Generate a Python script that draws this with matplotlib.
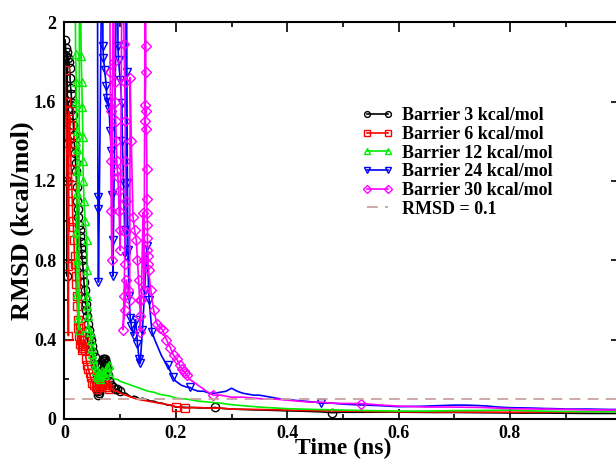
import matplotlib
matplotlib.use("Agg")
import matplotlib.pyplot as plt
from matplotlib.ticker import MultipleLocator

plt.rcParams['font.family'] = ['Liberation Serif', 'DejaVu Serif']
plt.rcParams['font.weight'] = 'bold'

# Barrier 3 kcal/mol
t3 = [0.001, 0.002, 0.003, 0.004, 0.0045, 0.005, 0.006, 0.008, 0.009, 0.010,
      0.011, 0.012, 0.013, 0.014, 0.015, 0.016, 0.017, 0.018, 0.019, 0.020,
      0.021, 0.022, 0.023, 0.024, 0.025, 0.026, 0.027, 0.028, 0.029, 0.030,
      0.031, 0.032, 0.033, 0.034, 0.035, 0.036, 0.037, 0.038, 0.039, 0.040,
      0.042, 0.044, 0.046, 0.048, 0.050, 0.052, 0.054, 0.056, 0.058, 0.059,
      0.060, 0.061, 0.062, 0.064, 0.066, 0.067, 0.068, 0.069, 0.070, 0.071,
      0.072, 0.073, 0.074, 0.075, 0.076, 0.078, 0.080, 0.083, 0.087, 0.091,
      0.095, 0.100, 0.105, 0.110, 0.115, 0.120, 0.125, 0.130, 0.135, 0.140,
      0.145, 0.150, 0.155, 0.160, 0.165, 0.170, 0.175, 0.180, 0.185, 0.190,
      0.195, 0.200, 0.210, 0.220, 0.230, 0.240, 0.250, 0.260, 0.270, 0.280,
      0.300, 0.320, 0.340, 0.360, 0.380, 0.400, 0.420, 0.440, 0.460, 0.480,
      0.500, 0.540, 0.580, 0.620, 0.660, 0.700, 0.740, 0.780, 0.820, 0.860,
      0.900, 0.940, 0.980, 1.000]
r3 = [1.91, 1.87, 1.83, 1.20, 0.72, 1.85, 1.82, 1.80, 1.77, 1.72,
      1.67, 1.64, 1.59, 1.56, 1.53, 1.48, 1.43, 1.38, 1.34, 1.29,
      1.25, 1.17, 1.10, 1.06, 1.02, 0.98, 0.95, 0.92, 0.89, 0.86,
      0.83, 0.80, 0.77, 0.73, 0.69, 0.65, 0.61, 0.58, 0.55, 0.52,
      0.48, 0.45, 0.42, 0.40, 0.37, 0.34, 0.31, 0.27, 0.22, 0.18,
      0.14, 0.12, 0.13, 0.16, 0.20, 0.24, 0.27, 0.29, 0.30, 0.30,
      0.29, 0.30, 0.28, 0.27, 0.25, 0.22, 0.19, 0.17, 0.16, 0.15,
      0.15, 0.14, 0.13, 0.13, 0.12, 0.11, 0.115, 0.11, 0.10, 0.105,
      0.10, 0.095, 0.09, 0.09, 0.085, 0.08, 0.08, 0.075, 0.07, 0.07,
      0.065, 0.06, 0.06, 0.058, 0.058, 0.056, 0.056, 0.055, 0.058, 0.054,
      0.05, 0.048, 0.046, 0.045, 0.043, 0.041, 0.04, 0.038, 0.036, 0.032,
      0.034, 0.034, 0.035, 0.034, 0.033, 0.033, 0.032, 0.031, 0.030, 0.030,
      0.029, 0.028, 0.028, 0.028]

# Barrier 6 kcal/mol
t6 = [0.001, 0.002, 0.003, 0.004, 0.005, 0.006, 0.007, 0.008, 0.009, 0.010,
      0.011, 0.012, 0.013, 0.014, 0.015, 0.016, 0.017, 0.018, 0.019, 0.020,
      0.021, 0.022, 0.023, 0.024, 0.025, 0.026, 0.027, 0.028, 0.029, 0.030,
      0.031, 0.032, 0.033, 0.035, 0.037, 0.039, 0.041, 0.043, 0.045, 0.047,
      0.050, 0.053, 0.056, 0.059, 0.062, 0.065, 0.068, 0.071, 0.074, 0.077,
      0.080, 0.085, 0.090, 0.095, 0.100, 0.110, 0.120, 0.130, 0.140, 0.150,
      0.160, 0.170, 0.180, 0.190, 0.200, 0.210, 0.216, 0.240, 0.260, 0.280,
      0.300, 0.350, 0.400, 0.450, 0.500, 0.550, 0.600, 0.700, 0.800, 0.900,
      1.000]
r6 = [1.76, 1.60, 1.50, 1.39, 1.20, 0.77, 0.42, 1.55, 1.48, 1.42,
      1.35, 1.26, 1.18, 1.10, 1.00, 0.97, 0.90, 0.82, 0.78, 0.72,
      0.68, 0.62, 0.57, 0.50, 0.46, 0.42, 0.38, 0.47, 0.44, 0.40,
      0.37, 0.35, 0.36, 0.40, 0.35, 0.30, 0.27, 0.25, 0.23, 0.21,
      0.18, 0.17, 0.16, 0.15, 0.17, 0.16, 0.17, 0.18, 0.16, 0.17,
      0.15, 0.15, 0.14, 0.14, 0.13, 0.12, 0.11, 0.10, 0.095, 0.09,
      0.085, 0.08, 0.075, 0.07, 0.062, 0.058, 0.056, 0.058, 0.055, 0.055,
      0.05, 0.048, 0.045, 0.042, 0.04, 0.038, 0.036, 0.035, 0.034, 0.036,
      0.04]

# Barrier 12 kcal/mol
t12 = [0.018, 0.020, 0.021, 0.021, 0.022, 0.022, 0.023, 0.023, 0.021, 0.022,
       0.023, 0.024, 0.026, 0.027, 0.030, 0.031, 0.032, 0.033, 0.033, 0.034,
       0.035, 0.037, 0.040, 0.041, 0.040, 0.041, 0.042, 0.043, 0.046, 0.048,
       0.049, 0.050, 0.052, 0.054, 0.056, 0.058, 0.060, 0.062, 0.064, 0.066,
       0.068, 0.070, 0.072, 0.074, 0.077, 0.080, 0.083, 0.086, 0.090, 0.095,
       0.100, 0.105, 0.110, 0.120, 0.130, 0.140, 0.150, 0.160, 0.170, 0.180,
       0.190, 0.200, 0.220, 0.240, 0.260, 0.280, 0.300, 0.350, 0.400, 0.450,
       0.500, 0.550, 0.600, 0.650, 0.700, 0.750, 0.800, 0.850, 0.900, 0.950,
       1.000]
r12 = [2.60, 1.84, 1.70, 1.60, 1.45, 1.36, 1.25, 1.14, 0.94, 0.80,
       0.63, 0.51, 0.45, 2.60, 1.83, 1.70, 1.57, 1.42, 1.30, 1.20,
       1.10, 1.00, 0.90, 0.75, 0.62, 0.57, 0.52, 0.46, 0.44, 0.40,
       0.36, 0.33, 0.30, 0.27, 0.24, 0.22, 0.21, 0.22, 0.20, 0.22,
       0.24, 0.23, 0.22, 0.24, 0.26, 0.27, 0.24, 0.21, 0.20, 0.20,
       0.19, 0.185, 0.18, 0.17, 0.16, 0.15, 0.14, 0.135, 0.125, 0.12,
       0.115, 0.105, 0.10, 0.09, 0.085, 0.08, 0.072, 0.06, 0.052, 0.048,
       0.045, 0.042, 0.04, 0.04, 0.042, 0.043, 0.045, 0.04, 0.038, 0.037,
       0.037]

# Barrier 24 kcal/mol
t24 = [0.059, 0.060, 0.060, 0.061, 0.068, 0.069, 0.070, 0.072, 0.075, 0.076,
       0.078, 0.080, 0.082, 0.084, 0.086, 0.087, 0.087, 0.095, 0.096, 0.097,
       0.100, 0.103, 0.104, 0.106, 0.108, 0.110, 0.111, 0.112, 0.113, 0.114,
       0.116, 0.118, 0.120, 0.124, 0.128, 0.131, 0.134, 0.136, 0.140, 0.144,
       0.148, 0.152, 0.157, 0.162, 0.168, 0.174, 0.180, 0.186, 0.190, 0.195,
       0.200, 0.210, 0.220, 0.225, 0.230, 0.240, 0.250, 0.260, 0.270, 0.280,
       0.290, 0.300, 0.310, 0.320, 0.330, 0.340, 0.350, 0.370, 0.390, 0.410,
       0.430, 0.450, 0.460, 0.480, 0.500, 0.520, 0.540, 0.560, 0.580, 0.600,
       0.620, 0.640, 0.660, 0.680, 0.700, 0.720, 0.740, 0.760, 0.780, 0.800,
       0.820, 0.840, 0.860, 0.880, 0.900, 0.920, 0.940, 0.960, 0.980, 1.000]
r24 = [2.60, 1.12, 1.06, 0.69, 2.60, 1.88, 1.82, 1.76, 1.68, 1.62,
       1.60, 1.56, 1.45, 1.35, 1.13, 0.90, 0.72, 2.60, 1.88, 1.81,
       1.71, 1.59, 1.40, 1.19, 0.95, 0.82, 2.60, 1.75, 1.19, 0.85,
       0.62, 0.51, 0.47, 0.42, 0.50, 0.38, 0.30, 0.28, 0.45, 0.65,
       0.87, 0.60, 0.44, 0.40, 0.36, 0.32, 0.29, 0.27, 0.24, 0.21,
       0.19, 0.17, 0.16, 0.16, 0.15, 0.14, 0.14, 0.13, 0.13, 0.135,
       0.14, 0.155, 0.14, 0.13, 0.125, 0.12, 0.12, 0.11, 0.10, 0.095,
       0.09, 0.085, 0.08, 0.08, 0.075, 0.072, 0.07, 0.068, 0.065, 0.062,
       0.063, 0.064, 0.066, 0.068, 0.07, 0.07, 0.068, 0.065, 0.06, 0.057,
       0.056, 0.055, 0.053, 0.052, 0.05, 0.05, 0.05, 0.049, 0.048, 0.048]

# Barrier 30 kcal/mol
t30 = [0.081, 0.082, 0.083, 0.083, 0.084, 0.085, 0.088, 0.089, 0.090, 0.091,
       0.092, 0.093, 0.094, 0.095, 0.096, 0.097, 0.098, 0.099, 0.100, 0.104,
       0.107, 0.108, 0.109, 0.109, 0.110, 0.109, 0.108, 0.107, 0.105, 0.108,
       0.111, 0.114, 0.117, 0.118, 0.120, 0.123, 0.126, 0.129, 0.131, 0.133,
       0.135, 0.136, 0.136, 0.138, 0.141, 0.142, 0.143, 0.145, 0.146, 0.146,
       0.145, 0.147, 0.145, 0.147, 0.148, 0.148, 0.148, 0.149, 0.149, 0.149,
       0.150, 0.150, 0.151, 0.155, 0.160, 0.166, 0.172, 0.176, 0.183, 0.190,
       0.196, 0.202, 0.207, 0.211, 0.214, 0.217, 0.220, 0.225, 0.235, 0.245,
       0.255, 0.267, 0.280, 0.290, 0.300, 0.320, 0.340, 0.360, 0.380, 0.400,
       0.420, 0.440, 0.460, 0.480, 0.500, 0.533, 0.560, 0.600, 0.650, 0.700,
       0.750, 0.800, 0.850, 0.900, 0.950, 1.000]
r30 = [2.60, 1.75, 1.55, 1.30, 1.05, 0.80, 2.60, 1.80, 1.70, 1.60,
       1.50, 1.40, 1.30, 1.25, 1.22, 1.15, 1.05, 0.95, 0.85, 2.60,
       1.89, 1.70, 1.50, 1.30, 1.10, 0.94, 0.78, 0.62, 0.45, 0.55,
       0.70, 0.65, 0.60, 1.72, 1.40, 1.02, 0.95, 0.90, 0.80, 0.70,
       0.60, 0.52, 0.44, 0.60, 1.04, 0.80, 0.65, 2.60, 1.88, 1.75,
       1.58, 1.55, 1.50, 1.46, 1.26, 1.11, 1.04, 0.98, 0.91, 0.85,
       0.82, 0.78, 0.75, 0.65, 0.55, 0.48, 0.46, 0.45, 0.40, 0.36,
       0.32, 0.30, 0.27, 0.25, 0.24, 0.23, 0.22, 0.20, 0.18, 0.16,
       0.14, 0.12, 0.12, 0.115, 0.11, 0.11, 0.105, 0.10, 0.10, 0.095,
       0.09, 0.085, 0.085, 0.08, 0.078, 0.078, 0.072, 0.065, 0.06, 0.06,
       0.058, 0.052, 0.05, 0.048, 0.046, 0.045]

labels = ['Barrier 3 kcal/mol', 'Barrier 6 kcal/mol', 'Barrier 12 kcal/mol',
          'Barrier 24 kcal/mol', 'Barrier 30 kcal/mol']
threshold = 0.1


def marks(ts, cutoff, extra):
    # markers on the dense early part, then only on a few later points
    return [i for i, t in enumerate(ts) if t <= cutoff or t in extra]


series = [
    (t3, r3, 'black', 'o', marks(t3, 0.1, (0.27, 0.48))),
    (t6, r6, 'red', 's', marks(t6, 0.08, (0.2, 0.216))),
    (t12, r12, '#00ee00', '^', marks(t12, 0.08, ())),
    (t24, r24, 'blue', 'v', marks(t24, 0.16, (0.186, 0.195, 0.225, 0.46))),
    (t30, r30, 'magenta', 'D', marks(t30, 0.22, (0.267, 0.533))),
]

fig = plt.figure(figsize=(6.16, 4.62), dpi=100)
ax = fig.add_axes([0.1047, 0.0931, 0.904, 0.859])

for (t, r, c, m, mk), lab in zip(series, labels):
    ax.plot(t, r, color=c, lw=1.2, marker=m, markevery=mk,
            ms=6 if m != 'D' else 5.5, mfc='none', mec=c, mew=1.0,
            label=lab)

ax.axhline(threshold, color='#c9a3a3', lw=1.3, dashes=(6, 4),
           label='RMSD = 0.1')

ax.set_xlim(0, 1)
ax.set_ylim(0, 2)
ax.set_xticks([0, 0.2, 0.4, 0.6, 0.8])
ax.set_xticklabels(['0', '0.2', '0.4', '0.6', '0.8'])
ax.set_yticks([0, 0.4, 0.8, 1.2, 1.6, 2.0])
ax.set_yticklabels(['0', '0.4', '0.8', '1.2', '1.6', '2'])
ax.xaxis.set_minor_locator(MultipleLocator(0.1))
ax.yaxis.set_minor_locator(MultipleLocator(0.2))
ax.tick_params(which='both', direction='in', top=True, right=True,
               labelsize=13, width=1.2, pad=6)
ax.tick_params(axis='x', pad=4)
ax.tick_params(which='major', length=7)
ax.tick_params(which='minor', length=3.5)
for s in ax.spines.values():
    s.set_linewidth(1.5)

ax.set_xlabel('Time (ns)', fontsize=17, fontweight='bold', labelpad=-3)
ax.set_ylabel('RMSD (kcal/mol)', fontsize=19, fontweight='bold', labelpad=0)

leg = ax.legend(loc='upper left', bbox_to_anchor=(0.533, 0.785), frameon=False,
                fontsize=13, numpoints=2, handlelength=1.8, handletextpad=0.45,
                labelspacing=0.09, markerscale=0.7, borderaxespad=0,
                borderpad=0)
for txt in leg.get_texts():
    txt.set_fontweight('bold')

fig.savefig('out.png', dpi=100)
